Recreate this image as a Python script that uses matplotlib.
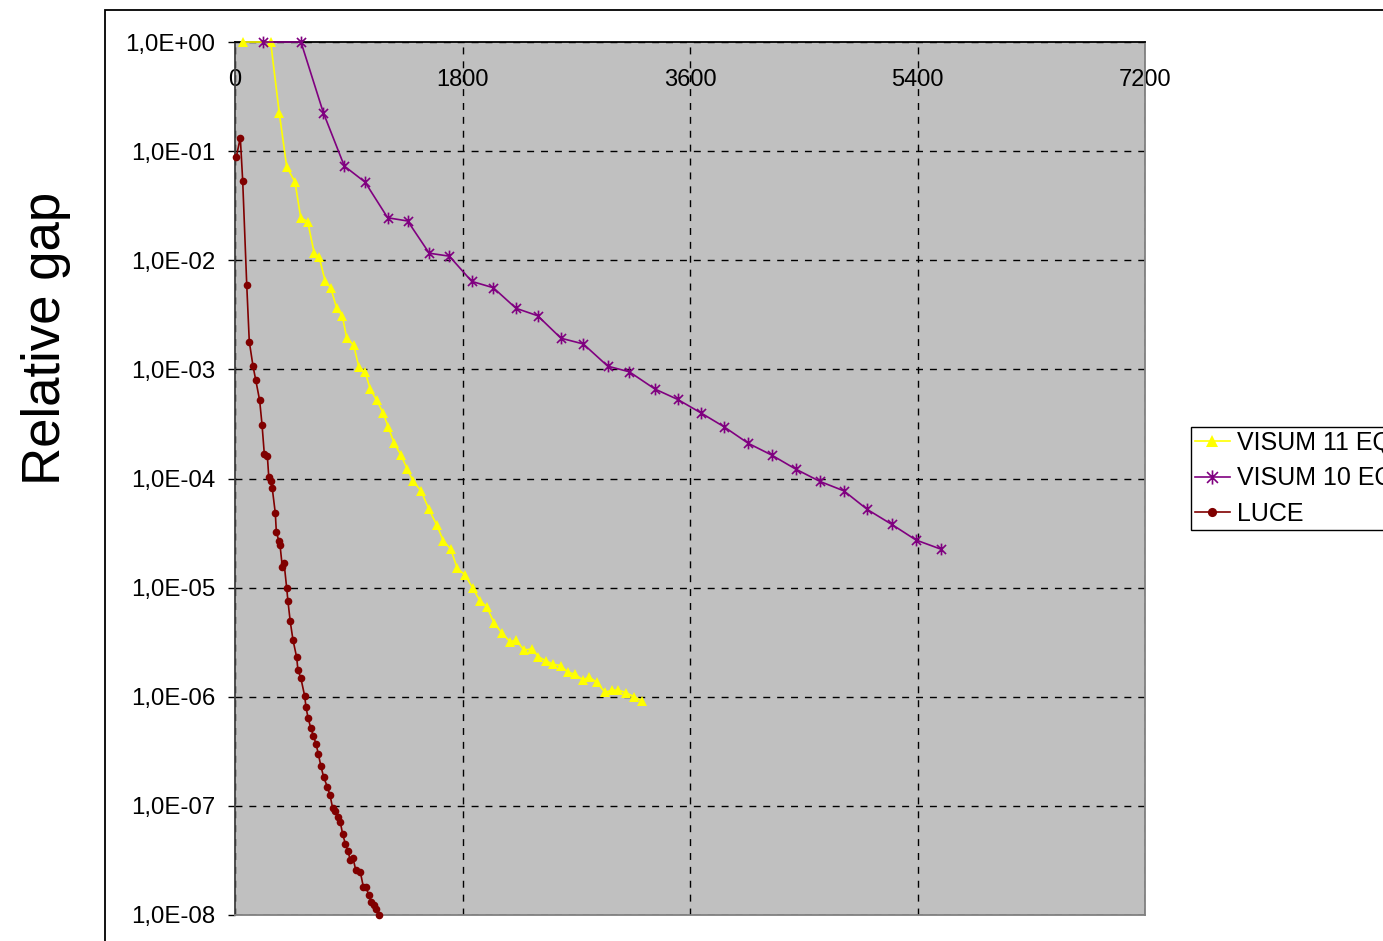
import numpy as np
import matplotlib
matplotlib.use("Agg")
import matplotlib.pyplot as plt
from matplotlib.path import Path
from matplotlib.patches import Rectangle
from matplotlib.ticker import FuncFormatter, NullLocator

plt.rcParams["font.family"] = ["Liberation Sans", "DejaVu Sans"]

# ---- data (time [s] vs relative gap) ----
visum11_t = [66, 282, 350, 409, 475, 520, 575, 627, 665, 714,
             757, 805, 849, 884, 939, 979, 1029, 1070, 1121, 1171,
             1213, 1260, 1313, 1363, 1411, 1472, 1535, 1596, 1648, 1707,
             1759, 1820, 1881, 1938, 1991, 2052, 2115, 2176, 2223, 2287,
             2347, 2400, 2458, 2518, 2577, 2632, 2690, 2751, 2803, 2862,
             2927, 2985, 3033, 3094, 3157, 3218]
visum11_gap = [1.0, 1.0, 2.25e-1, 7.2e-2, 5.2e-2, 2.45e-2, 2.26e-2, 1.16e-2, 1.08e-2, 6.4e-3,
               5.6e-3, 3.63e-3, 3.1e-3, 1.93e-3, 1.67e-3, 1.06e-3, 9.5e-4, 6.6e-4, 5.2e-4, 4.0e-4,
               2.96e-4, 2.1e-4, 1.64e-4, 1.22e-4, 9.4e-5, 7.7e-5, 5.2e-5, 3.75e-5, 2.7e-5, 2.25e-5,
               1.5e-5, 1.31e-5, 9.9e-6, 7.6e-6, 6.7e-6, 4.7e-6, 3.8e-6, 3.2e-6, 3.3e-6, 2.68e-6,
               2.74e-6, 2.33e-6, 2.14e-6, 1.98e-6, 1.93e-6, 1.68e-6, 1.61e-6, 1.43e-6, 1.51e-6, 1.36e-6,
               1.10e-6, 1.15e-6, 1.15e-6, 1.09e-6, 1.0e-6, 9.2e-7]

visum10_t = [219, 522, 699, 865, 1029, 1208, 1366, 1537, 1696, 1873,
             2044, 2223, 2395, 2579, 2756, 2949, 3120, 3323, 3503, 3685,
             3869, 4061, 4246, 4436, 4628, 4818, 5003, 5196, 5388, 5586]
visum10_gap = [1.0, 1.0, 2.25e-1, 7.3e-2, 5.2e-2, 2.45e-2, 2.29e-2, 1.16e-2, 1.09e-2, 6.4e-3,
               5.6e-3, 3.63e-3, 3.1e-3, 1.93e-3, 1.71e-3, 1.07e-3, 9.5e-4, 6.6e-4, 5.3e-4, 4.0e-4,
               2.98e-4, 2.1e-4, 1.64e-4, 1.22e-4, 9.4e-5, 7.7e-5, 5.2e-5, 3.8e-5, 2.73e-5, 2.25e-5]

luce_t = [10, 42, 61, 93, 113, 142, 164, 195, 214, 232,
          256, 267, 285, 295, 319, 327, 346, 356, 374, 388,
          409, 419, 437, 459, 488, 498, 520, 551, 562, 578,
          599, 620, 641, 659, 680, 702, 730, 752, 773, 794,
          813, 833, 852, 873, 892, 912, 934, 955, 991, 1015,
          1036, 1058, 1076, 1097, 1116, 1137]
luce_gap = [8.8e-2, 1.33e-1, 5.3e-2, 5.9e-3, 1.8e-3, 1.08e-3, 8.0e-4, 5.2e-4, 3.1e-4, 1.67e-4,
            1.61e-4, 1.04e-4, 9.5e-5, 8.1e-5, 4.8e-5, 3.25e-5, 2.7e-5, 2.47e-5, 1.56e-5, 1.69e-5,
            9.9e-6, 7.5e-6, 4.9e-6, 3.3e-6, 2.3e-6, 1.75e-6, 1.5e-6, 1.02e-6, 8.0e-7, 6.4e-7,
            5.2e-7, 4.4e-7, 3.7e-7, 3.0e-7, 2.3e-7, 1.83e-7, 1.5e-7, 1.25e-7, 9.5e-8, 9.0e-8,
            7.9e-8, 7.1e-8, 5.5e-8, 4.5e-8, 3.9e-8, 3.2e-8, 3.3e-8, 2.6e-8, 2.5e-8, 1.82e-8,
            1.82e-8, 1.52e-8, 1.32e-8, 1.23e-8, 1.13e-8, 1.01e-8]

x_ticks = [0, 1800, 3600, 5400, 7200]
y_ticks = [10.0 ** -k for k in range(9)]

# asterisk marker like Excel's (X with a vertical bar)
star = Path([(-1, -1), (1, 1), (-1, 1), (1, -1), (0, -1.3), (0, 1.3)],
            [Path.MOVETO, Path.LINETO, Path.MOVETO, Path.LINETO,
             Path.MOVETO, Path.LINETO])

W, H = 1383, 941
fig = plt.figure(figsize=(W / 100, H / 100), dpi=100)
ax = fig.add_axes([235 / W, (H - 915) / H, 910 / W, 873 / H])
ax.set_facecolor("#C0C0C0")

# chart-area border (runs off the picture on the right and bottom)
fig.patches.append(Rectangle((105 / W, -0.1), 1.2, 1 - 10 / H + 0.1,
                             transform=fig.transFigure, fill=False,
                             edgecolor="black", linewidth=1.3, zorder=-1))

ax.plot(visum11_t, visum11_gap, color="#FFFF00", linewidth=1.2,
        marker="^", markersize=7.5, markeredgewidth=0, label="VISUM 11 EQUILIBRIUM",
        clip_on=False, zorder=3)
ax.plot(visum10_t, visum10_gap, color="#800080", linewidth=1.2,
        marker=star, markersize=8.5, markeredgewidth=1.2, markerfacecolor="none",
        label="VISUM 10 EQUILIBRIUM", clip_on=False, zorder=3)
ax.plot(luce_t, luce_gap, color="#800000", linewidth=1.2,
        marker="o", markersize=5.5, markeredgewidth=0, label="LUCE",
        clip_on=False, zorder=3)

ax.set_yscale("log")
ax.set_xlim(0, 7200)
ax.set_ylim(1e-8, 1)
ax.set_xticks(x_ticks)
ax.set_yticks(y_ticks)
ax.yaxis.set_minor_locator(NullLocator())
ax.yaxis.set_major_formatter(FuncFormatter(lambda v, p: f"{v:.1E}".replace(".", ",")))

ax.grid(True, color="black", linestyle=(0, (5, 5)), linewidth=1)
ax.set_axisbelow(True)

ax.tick_params(axis="x", bottom=False, labelbottom=False, top=False,
               labeltop=True, length=0, pad=-35.5, labelsize=17)
ax.tick_params(axis="y", direction="out", length=5, width=1, pad=9,
               labelsize=17.3, color="black")

ax.spines["top"].set_color("black")
ax.spines["top"].set_linewidth(1.3)
ax.spines["left"].set_color("#404040")
ax.spines["left"].set_linewidth(1.3)
for s in ("right", "bottom"):
    ax.spines[s].set_color("#808080")
    ax.spines[s].set_linewidth(1.3)

ax.set_ylabel("Relative gap", fontsize=38)
ax.yaxis.set_label_coords(-0.180, 0.66)

leg = ax.legend(loc="upper left", bbox_to_anchor=(1191 / W, 1 - 427 / H),
                bbox_transform=fig.transFigure, borderaxespad=0, fontsize=18,
                frameon=True, fancybox=False, edgecolor="black", framealpha=1,
                labelspacing=0.47, handlelength=1.4, handletextpad=0.3,
                borderpad=0.15, markerscale=1.2)
leg.get_frame().set_linewidth(1.0)

fig.savefig("out.png", dpi=100, facecolor="white")
